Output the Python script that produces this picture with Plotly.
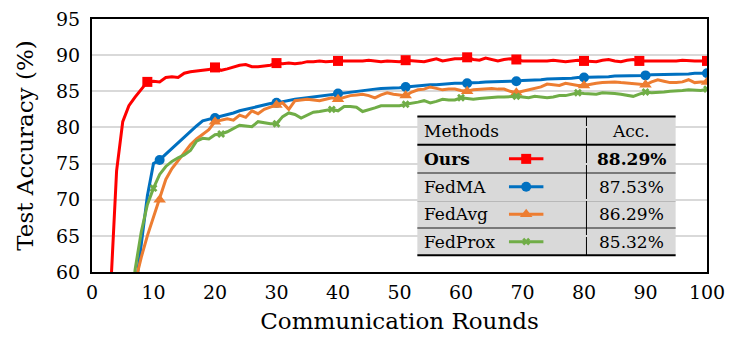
import plotly.graph_objects as go

# ---- data ----
rounds = list(range(1, 101))

ours = [None, None, 57.0, 74.0, 80.8, 83.0, 84.2, 85.3, 86.3, 86.4,
        86.3, 86.9, 87.0, 86.9, 87.5, 87.7, 87.8, 87.8, 88.0, 88.3,
        87.9, 88.1, 88.4, 88.6, 88.7, 88.4, 88.4, 88.5, 88.6, 88.9,
        88.8, 88.9, 88.8, 88.9, 89.1, 89.1, 89.2, 89.1, 89.2, 89.2,
        89.2, 89.2, 89.1, 89.2, 89.3, 89.2, 89.1, 89.2, 89.2, 89.1,
        89.3, 89.2, 89.2, 89.1, 89.3, 89.5, 89.2, 89.4, 89.5, 89.5,
        89.7, 89.4, 89.3, 89.6, 89.4, 89.2, 89.4, 89.5, 89.4, 89.2,
        89.2, 89.2, 89.1, 89.2, 89.3, 89.2, 89.1, 89.2, 89.3, 89.2,
        89.2, 89.1, 89.3, 89.4, 89.2, 89.1, 89.3, 89.4, 89.2, 89.2,
        89.2, 89.2, 89.1, 89.2, 89.2, 89.3, 89.2, 89.2, 89.2, 89.2]

fedma = [None, None, None, None, None, None, 57.0, 64.0, 70.5, 75.0,
         75.5, 76.3, 77.1, 77.9, 78.7, 79.5, 80.2, 80.9, 81.1, 81.3,
         81.5, 81.8, 82.0, 82.3, 82.5, 82.8, 83.0, 83.2, 83.3, 83.4,
         83.6, 83.8, 83.9, 84.0, 84.1, 84.3, 84.4, 84.5, 84.6, 84.7,
         84.8, 84.9, 85.0, 85.1, 85.2, 85.3, 85.4, 85.4, 85.5, 85.5,
         85.6, 85.7, 85.7, 85.8, 85.9, 85.9, 86.0, 86.0, 86.1, 86.1,
         86.1, 86.2, 86.2, 86.3, 86.3, 86.3, 86.4, 86.4, 86.4, 86.5,
         86.5, 86.6, 86.6, 86.7, 86.7, 86.8, 86.8, 86.8, 86.9, 86.9,
         86.9, 87.0, 87.0, 87.0, 87.1, 87.1, 87.1, 87.2, 87.2, 87.2,
         87.3, 87.3, 87.3, 87.4, 87.4, 87.4, 87.4, 87.5, 87.5, 87.5]

fedavg = [None, None, None, None, None, None, 58.5, 62.0, 65.0, 67.5,
          70.0, 72.8, 74.3, 75.4, 76.6, 77.6, 78.4, 79.0, 79.7, 80.8,
          81.0, 81.2, 81.0, 81.7, 81.4, 82.3, 81.9, 82.5, 82.8, 83.1,
          83.4, 82.5, 83.7, 83.8, 83.9, 83.8, 83.7, 83.9, 84.1, 83.9,
          84.2, 84.4, 84.5, 84.6, 84.4, 84.1, 84.5, 84.8, 84.6, 84.5,
          84.4, 84.9, 85.2, 85.3, 85.6, 85.4, 85.2, 85.3, 85.3, 85.1,
          85.0, 85.2, 85.3, 85.4, 85.4, 85.3, 85.3, 85.0, 84.8, 85.0,
          85.2, 85.4, 85.6, 86.0, 85.9, 85.8, 86.1, 85.9, 85.8, 85.8,
          86.0, 86.1, 86.2, 86.3, 86.3, 86.2, 86.1, 86.0, 86.0, 85.9,
          86.3, 86.6, 86.4, 86.2, 86.2, 86.3, 86.6, 86.2, 86.3, 86.3]

fedprox = [None, None, None, None, None, 50.0, 60.3, 65.5, 69.3, 71.6,
           73.5, 74.6, 75.3, 75.8, 76.2, 76.8, 78.1, 78.5, 78.4, 79.0,
           79.1, 79.4, 79.9, 80.3, 80.2, 80.1, 80.8, 80.6, 80.5, 80.5,
           81.5, 82.0, 81.8, 81.3, 81.7, 82.1, 82.2, 82.3, 82.5, 82.3,
           82.9, 82.9, 82.8, 82.2, 82.4, 82.7, 83.0, 83.0, 83.0, 83.0,
           83.2, 83.3, 83.5, 83.7, 83.4, 83.6, 83.9, 83.8, 83.8, 84.1,
           84.0, 83.9, 84.0, 84.1, 84.1, 84.2, 84.2, 84.3, 84.3, 84.2,
           84.1, 84.3, 84.2, 84.1, 84.2, 84.4, 84.4, 84.6, 84.8, 84.7,
           84.6, 84.6, 84.8, 84.8, 84.7, 84.6, 84.5, 84.3, 84.6, 84.9,
           84.8, 84.8, 84.9, 85.0, 85.0, 85.1, 85.2, 85.2, 85.1, 85.3]

# rounds that carry a marker in the reference
ours_marks = [9, 20, 30, 40, 51, 61, 69, 80, 89, 100]
fedma_marks = [11, 20, 30, 40, 51, 61, 69, 80, 90, 100]
fedavg_marks = [11, 20, 30, 40, 51, 61, 69, 80, 90, 100]
fedprox_marks = [10, 21, 30, 39, 51, 60, 69, 79, 90, 100]

methods = ["Ours", "FedMA", "FedAvg", "FedProx"]
accuracies = ["88.29%", "87.53%", "86.29%", "85.32%"]

FONT = "DejaVu Serif"

styles = [
    dict(color="#ff0000", symbol="square", size=10),
    dict(color="#0070c0", symbol="circle", size=10),
    dict(color="#ed7d31", symbol="triangle-up", size=11),
    dict(color="#70ad47", symbol="x", size=7),
]
series = [ours, fedma, fedavg, fedprox]
marks = [ours_marks, fedma_marks, fedavg_marks, fedprox_marks]

fig = go.Figure()

for vals, mk, st in zip(series, marks, styles):
    fig.add_trace(go.Scatter(x=rounds, y=vals, mode="lines",
                             line=dict(color=st["color"], width=3),
                             showlegend=False, hoverinfo="skip"))
    fig.add_trace(go.Scatter(x=[r for r in mk], y=[vals[r - 1] for r in mk], mode="markers",
                             marker=dict(color=st["color"], symbol=st["symbol"], size=st["size"],
                                         line=dict(width=0)),
                             showlegend=False, hoverinfo="skip"))

# ---- table legend (data coordinates) ----
tx0, tx1, tdiv = 52.9, 94.9, 80.4
row_edges = [81.5, 77.6, 73.7, 69.9, 66.1, 62.3]
row_mid = [(row_edges[i] + row_edges[i + 1]) / 2 for i in range(5)]

shapes = [dict(type="rect", xref="x", yref="y", x0=tx0, x1=tx1, y0=row_edges[-1], y1=row_edges[0],
               fillcolor="#d9d9d9", line=dict(width=0), layer="below")]
for i, yv in enumerate(row_edges):
    if i in (0, 1, len(row_edges) - 1):
        col, w = "black", 2
    else:
        col, w = "#595959", 1.5
    shapes.append(dict(type="line", xref="x", yref="y", x0=tx0, x1=tx1, y0=yv, y1=yv,
                       line=dict(color=col, width=w), layer="below"))
shapes.append(dict(type="line", xref="x", yref="y", x0=tdiv, x1=tdiv, y0=row_edges[-1], y1=row_edges[0],
                   line=dict(color="black", width=1), layer="below"))

annotations = [
    dict(x=53.7, y=row_mid[0], text="Methods", xanchor="left"),
    dict(x=(tdiv + tx1) / 2, y=row_mid[0], text="Acc.", xanchor="center"),
]
for i, (m, a) in enumerate(zip(methods, accuracies)):
    bold = i == 0
    annotations.append(dict(x=53.7, y=row_mid[i + 1], text=f"<b>{m}</b>" if bold else m, xanchor="left"))
    annotations.append(dict(x=(tdiv + tx1) / 2, y=row_mid[i + 1], text=f"<b>{a}</b>" if bold else a,
                            xanchor="center"))
for an in annotations:
    an.update(xref="x", yref="y", showarrow=False, yanchor="middle",
              font=dict(family=FONT, size=17, color="black"))

# legend samples inside the table
for i, st in enumerate(styles):
    yv = row_mid[i + 1]
    fig.add_trace(go.Scatter(x=[67.8, 73.4], y=[yv, yv], mode="lines",
                             line=dict(color=st["color"], width=3), showlegend=False, hoverinfo="skip"))
    fig.add_trace(go.Scatter(x=[70.6], y=[yv], mode="markers",
                             marker=dict(color=st["color"], symbol=st["symbol"], size=st["size"]),
                             showlegend=False, hoverinfo="skip"))

# the page body adds an 8px offset, so margins are shifted to compensate
fig.update_layout(
    width=746, height=339,
    margin=dict(l=84, r=47, t=11, b=75),
    paper_bgcolor="white", plot_bgcolor="white",
    font=dict(family=FONT, color="black"),
    shapes=shapes, annotations=annotations,
    showlegend=False,
)
fig.update_xaxes(range=[0, 100], dtick=10, tick0=0, showgrid=False, zeroline=False, automargin=False,
                 showline=True, linecolor="black", linewidth=2, mirror=True, ticklabeloverflow="allow",
                 ticks="outside", ticklen=2, tickcolor="rgba(0,0,0,0)", tickfont=dict(family=FONT, size=19),
                 title=dict(text="Communication Rounds", font=dict(family=FONT, size=23), standoff=11))
fig.update_yaxes(range=[60, 95], dtick=5, tick0=60, showgrid=True, gridcolor="#d9d9d9", gridwidth=1.5,
                 zeroline=False, showline=True, linecolor="black", linewidth=2, mirror=True, automargin=False,
                 ticklabeloverflow="allow",
                 ticks="outside", ticklen=6, tickcolor="rgba(0,0,0,0)", tickfont=dict(family=FONT, size=19),
                 title=dict(text="Test Accuracy (%)", font=dict(family=FONT, size=23), standoff=16))

fig.write_html("out.html")
